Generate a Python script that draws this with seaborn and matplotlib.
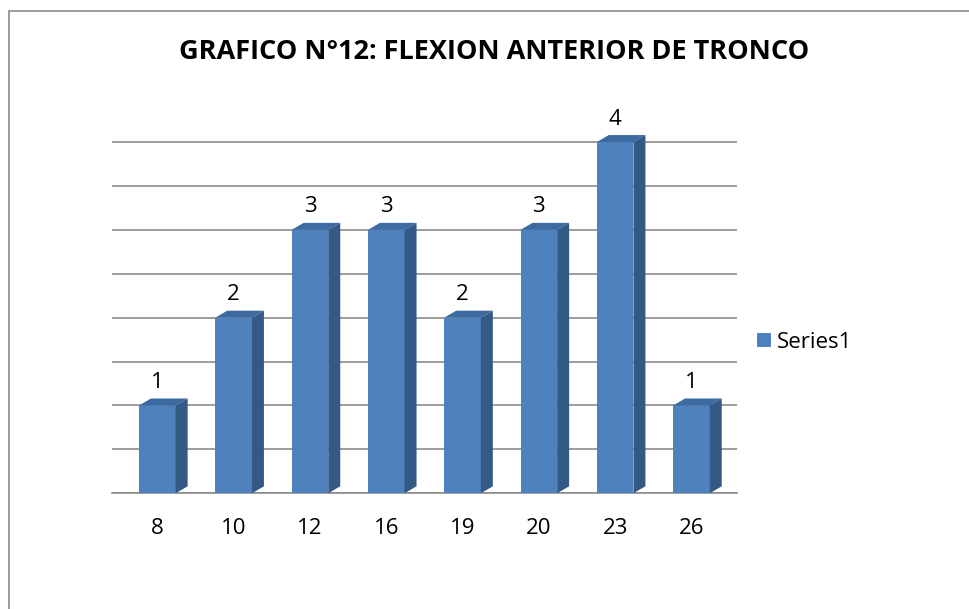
import numpy as np
import pandas as pd
import matplotlib
matplotlib.use("Agg")
import matplotlib.pyplot as plt
import seaborn as sns
from matplotlib.patches import Polygon
from matplotlib.lines import Line2D

# datos del grafico
categorias = ["8", "10", "12", "16", "19", "20", "23", "26"]
valores = [1, 2, 3, 3, 2, 3, 4, 1]
serie = "Series1"

df = pd.DataFrame({"categoria": categorias, "valor": valores, "serie": serie})

sns.set_style("white")
plt.rcParams["font.family"] = ["Open Sans", "DejaVu Sans"]
plt.rcParams["text.color"] = "black"
plt.rcParams["xtick.color"] = "black"

fig = plt.figure(figsize=(9.7, 6.09), dpi=100)
ax = fig.add_axes([0.115, 0.19, 0.645, 0.62])

sns.barplot(data=df, x="categoria", y="valor", hue="serie", palette=["#4F81BD"],
            width=0.48, saturation=1, linewidth=0, ax=ax, zorder=3)

ax.set_xlim(-0.6, 7.6)
ax.set_ylim(0, 4.3)

# profundidad de las barras (efecto 3D)
dx = 12 / 76.3
dy = 7 / 87.8
for p in list(ax.patches):
    x0, w, h = p.get_x(), p.get_width(), p.get_height()
    lado = Polygon([(x0 + w, 0), (x0 + w + dx, dy), (x0 + w + dx, h + dy), (x0 + w, h)],
                   closed=True, facecolor="#355985", edgecolor="none", zorder=3)
    tapa = Polygon([(x0, h), (x0 + dx, h + dy), (x0 + w + dx, h + dy), (x0 + w, h)],
                   closed=True, facecolor="#3D6AA0", edgecolor="none", zorder=3)
    ax.add_patch(lado)
    ax.add_patch(tapa)

for c in ax.containers:
    ax.bar_label(c, fontsize=16, padding=9)

# lineas de division
ax.set_yticks(np.arange(0, 4.01, 0.5))
ax.set_yticklabels([])
ax.tick_params(axis="y", length=0)
ax.grid(axis="y", color="#8C8C8C", linewidth=1.2, zorder=0)

ax.set_xlabel("")
ax.set_ylabel("")
ax.set_xticks(np.arange(-0.5, 7.6, 1), minor=True)
ax.tick_params(axis="x", which="major", length=0, labelsize=16, pad=18)
ax.tick_params(axis="x", which="minor", length=7, color="#8C8C8C", direction="out")
for s in ["left", "right", "top"]:
    ax.spines[s].set_visible(False)
ax.spines["bottom"].set_color("#8C8C8C")
ax.spines["bottom"].set_linewidth(1.2)

sns.move_legend(ax, "center left", bbox_to_anchor=(1.0, 0.4), frameon=False,
                title=None, fontsize=16, handlelength=0.6, handleheight=0.6,
                handletextpad=0.3)

fig.text(0.509, 0.915, "GRAFICO N°12: FLEXION ANTERIOR DE TRONCO",
         ha="center", va="center", fontsize=19.5, fontweight="bold")

# borde del area del grafico (arriba e izquierda)
fig.add_artist(Line2D([0.009, 1.0], [0.982, 0.982], transform=fig.transFigure,
                      color="#8C8C8C", linewidth=1.2))
fig.add_artist(Line2D([0.009, 0.009], [0.0, 0.982], transform=fig.transFigure,
                      color="#8C8C8C", linewidth=1.2))

fig.savefig("out.png", dpi=100)
